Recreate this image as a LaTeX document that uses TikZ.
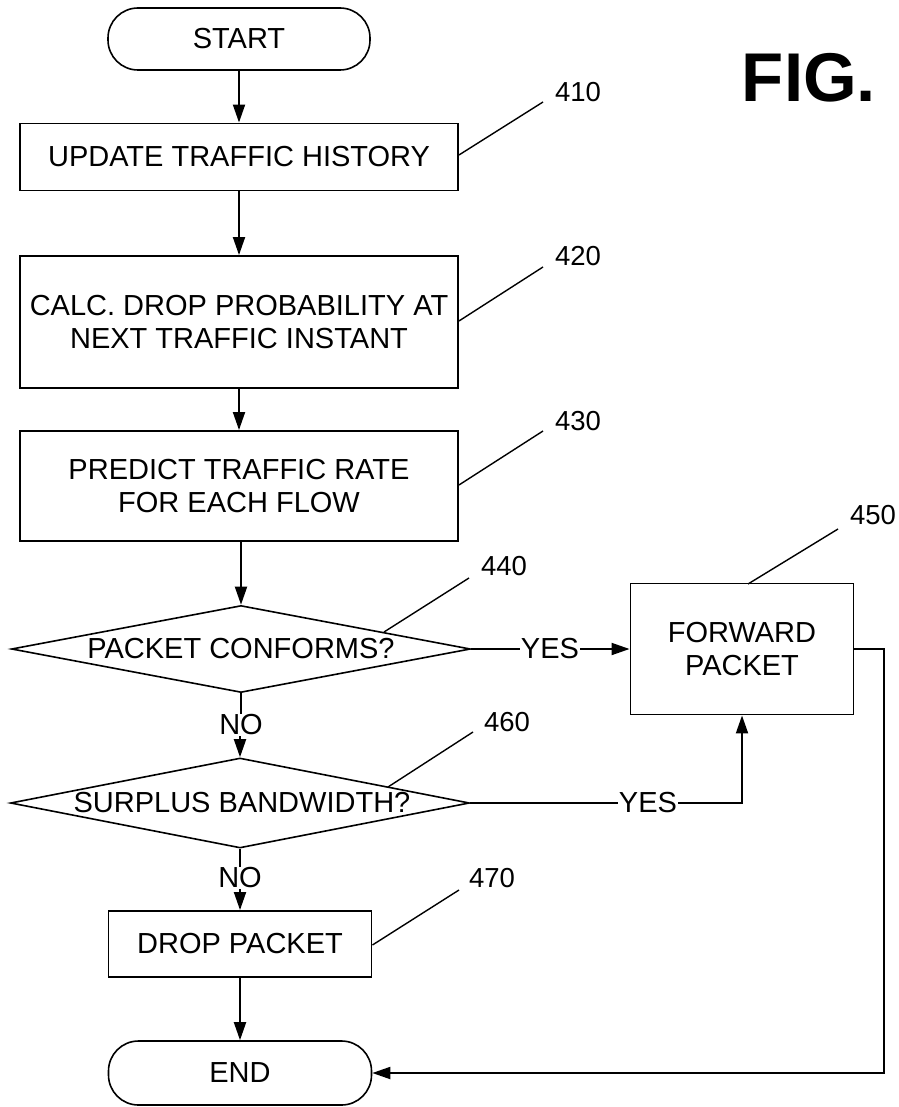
\documentclass[tikz,border=0pt]{standalone}
\usepackage{fontspec}
\setmainfont{Liberation Sans}
\usetikzlibrary{shapes.geometric,arrows.meta}
\begin{document}
\begin{tikzpicture}[x=1pt,y=-1pt,
  every node/.style={font=\fontsize{29}{33}\selectfont},
  line/.style={line width=1.9pt},
  arr/.style={line width=1.9pt,-{Triangle[length=18pt,width=12pt]}},
  box/.style={draw,line width=1.9pt,rectangle,inner sep=0pt,align=center},
  pill/.style={draw,line width=1.6pt,rectangle,rounded corners=30pt,inner sep=0pt},
  dec/.style={draw,line width=1.6pt,diamond,inner sep=0pt},
  ref/.style={font=\fontsize{27.5}{32}\selectfont},
  lead/.style={line width=1.4pt},
  tag/.style={fill=white,inner sep=1pt}]
\useasboundingbox (0,0) rectangle (898,1107);
\node[pill,minimum width=262pt,minimum height=62pt] (start) at (239,39) {START};
\node[box,minimum width=438pt,minimum height=67pt] (upd) at (239,157) {UPDATE TRAFFIC HISTORY};
\node[box,minimum width=438pt,minimum height=132pt] (calc) at (239,322) {CALC. DROP PROBABILITY AT\\NEXT TRAFFIC INSTANT};
\node[box,minimum width=438pt,minimum height=110pt] (pred) at (239,486) {PREDICT TRAFFIC RATE\\FOR EACH FLOW};
\node[dec,minimum width=459pt,minimum height=87pt] (d440) at (241,649) {};
\node at (241,649) {PACKET CONFORMS?};
\node[box,minimum width=223pt,minimum height=131pt] (fwd) at (742,649) {FORWARD\\PACKET};
\node[dec,minimum width=459pt,minimum height=90pt] (d460) at (240,803) {};
\node at (242,803) {SURPLUS BANDWIDTH?};
\node[box,minimum width=263pt,minimum height=66pt] (drop) at (240,944) {DROP PACKET};
\node[pill,minimum width=263pt,minimum height=64pt] (end) at (240,1073) {END};
\node[font=\fontsize{69}{76}\selectfont\bfseries,anchor=base] (fig) at (809,102) {FIG.};
% reference numerals
\node[ref] (r410) at (578,92) {410};
\node[ref] (r420) at (578,256) {420};
\node[ref] (r430) at (578,421) {430};
\node[ref] (r440) at (504,566) {440};
\node[ref] (r450) at (873,515) {450};
\node[ref] (r460) at (507,722) {460};
\node[ref] (r470) at (492,878) {470};
\coordinate (e410) at (543,102);
\coordinate (e420) at (543,267);
\coordinate (e430) at (543,431);
\coordinate (e440) at (469,578);
\coordinate (e450) at (838,529);
\coordinate (e460) at (473,732);
\coordinate (e470) at (459,890);
\coordinate (s450) at (748,584);
\draw[lead] (upd.east |- 0,155) -- (e410);
\draw[lead] (calc.east |- 0,321) -- (e420);
\draw[lead] (pred.east |- 0,485) -- (e430);
\draw[lead] (384,632) -- (e440);
\draw[lead] (s450) -- (e450);
\draw[lead] (388,787) -- (e460);
\draw[lead] (drop.east |- 0,945) -- (e470);
% flow
\draw[arr] (start) -- (upd);
\draw[arr] (upd) -- (calc);
\draw[arr] (calc) -- (pred);
\draw[arr] (pred.south -| d440.north) -- (d440.north);
\node[tag] (no1) at (241,725) {NO};
\draw[line] (d440.south) -- (no1);
\draw[arr] (no1.south -| d460.north) -- (d460.north);
\node[tag] (yes1) at (550,649) {YES};
\draw[line] (d440.east) -- (yes1);
\draw[arr] (yes1) -- (fwd.west);
\node[tag] (yes2) at (648,803) {YES};
\draw[line] (d460.east) -- (yes2);
\draw[arr] (yes2) -| (fwd.south);
\node[tag] (no2) at (240,878) {NO};
\draw[line] (d460.south) -- (no2);
\draw[arr] (no2) -- (drop);
\draw[arr] (drop) -- (end);
\coordinate (rt) at (884,649);
\draw[arr] (fwd.east) -- (rt) |- (end.east);
\end{tikzpicture}
\end{document}
